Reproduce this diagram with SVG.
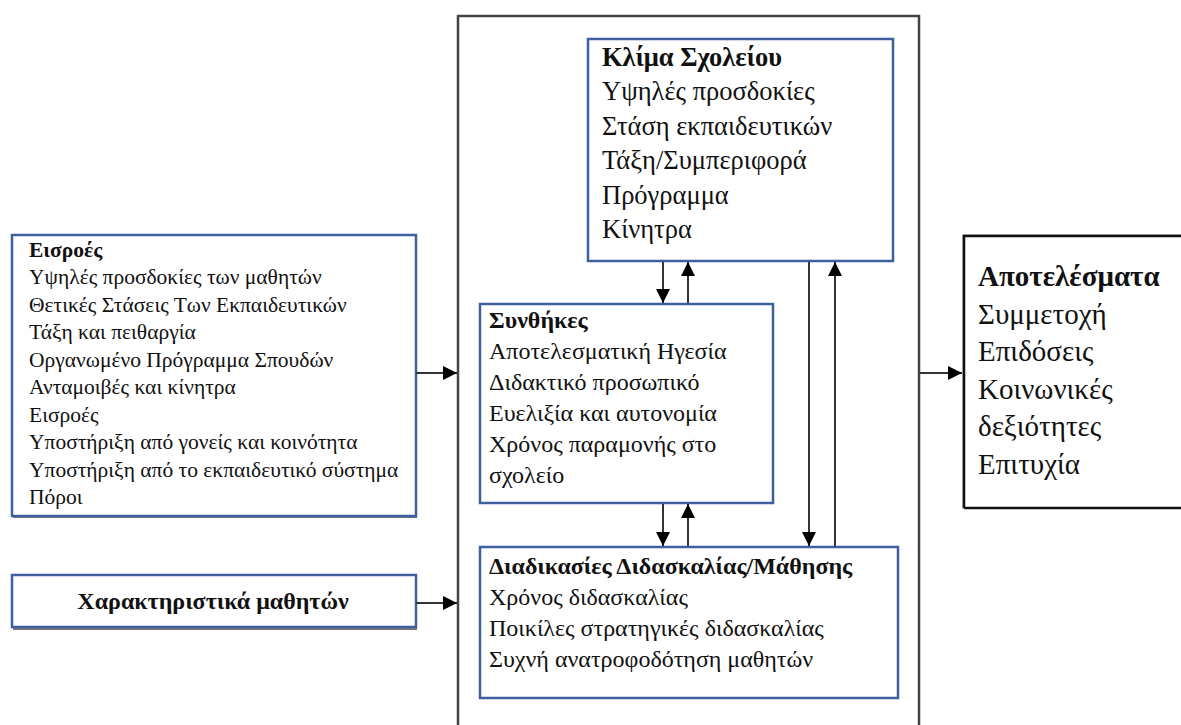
<svg xmlns="http://www.w3.org/2000/svg" width="1181" height="725" viewBox="0 0 1181 725">
<defs>
<marker id="ahb" viewBox="0 0 14 14" refX="14" refY="7" markerWidth="14" markerHeight="14" markerUnits="userSpaceOnUse" orient="auto">
<path d="M0,0 L14,7 L0,14 z" fill="#000"/>
</marker>
</defs>
<style>
.bx{fill:#fff;stroke:#3f5f9f;stroke-width:2.5}
.sh{fill:#777}
.ln{stroke:#333;stroke-width:2;fill:none}
.b{font-weight:bold}
</style>
<rect width="1181" height="725" fill="#fff"/>
<g id="outer">
<path d="M458,725 L458,16 L919,16 L919,725" fill="none" stroke="#444" stroke-width="2.5"/>
</g>
<g font-family="'Liberation Serif', 'Times New Roman', 'DejaVu Serif', serif" fill="#111">
<g id="eisroes" font-size="21.5">
<rect x="13" y="237" width="404" height="281" class="sh"/>
<rect x="12" y="235" width="404" height="281" class="bx"/>
<text x="29" y="257" class="b">Εισροές</text>
<text x="29" y="284">Υψηλές προσδοκίες των μαθητών</text>
<text x="29" y="311.5">Θετικές Στάσεις Των Εκπαιδευτικών</text>
<text x="29" y="339">Τάξη και πειθαργία</text>
<text x="29" y="366.5">Οργανωμένο Πρόγραμμα Σπουδών</text>
<text x="29" y="394">Ανταμοιβές και κίνητρα</text>
<text x="29" y="421.5">Εισροές</text>
<text x="29" y="449">Υποστήριξη από γονείς και κοινότητα</text>
<text x="29" y="476.5">Υποστήριξη από το εκπαιδευτικό σύστημα</text>
<text x="29" y="504">Πόροι</text>
</g>
<g id="charakt">
<rect x="13" y="577" width="404" height="53" class="sh"/>
<rect x="12" y="575" width="404" height="52" class="bx"/>
<text x="213" y="609" font-size="24" class="b" text-anchor="middle">Χαρακτηριστικά μαθητών</text>
</g>
<g id="klima" font-size="26.5">
<rect x="588" y="39" width="305" height="222" class="bx"/>
<text x="602" y="65.5" class="b">Κλίμα Σχολείου</text>
<text x="602" y="100">Υψηλές προσδοκίες</text>
<text x="602" y="134.5">Στάση εκπαιδευτικών</text>
<text x="602" y="169">Τάξη/Συμπεριφορά</text>
<text x="602" y="203.5">Πρόγραμμα</text>
<text x="602" y="238">Κίνητρα</text>
</g>
<g id="synthikes" font-size="24">
<rect x="480" y="304" width="293" height="199" class="bx"/>
<text x="489" y="328" class="b">Συνθήκες</text>
<text x="489" y="359">Αποτελεσματική Ηγεσία</text>
<text x="489" y="390">Διδακτικό προσωπικό</text>
<text x="489" y="421">Ευελιξία και αυτονομία</text>
<text x="489" y="452">Χρόνος παραμονής στο</text>
<text x="489" y="483">σχολείο</text>
</g>
<g id="diadikasies" font-size="24">
<rect x="480" y="547" width="418" height="151" class="bx"/>
<text x="489" y="574" class="b">Διαδικασίες Διδασκαλίας/Μάθησης</text>
<text x="489" y="605">Χρόνος διδασκαλίας</text>
<text x="489" y="636">Ποικίλες στρατηγικές διδασκαλίας</text>
<text x="489" y="667">Συχνή ανατροφοδότηση μαθητών</text>
</g>
<g id="apotelesmata" font-size="29">
<path d="M963,509 L963,235 L1181,235" fill="none" stroke="#888" stroke-width="1"/>
<path d="M964,508 L964,236 L1181,236 M964,508 L1181,508" fill="none" stroke="#111" stroke-width="2.5"/>
<text x="978" y="286" class="b">Αποτελέσματα</text>
<text x="978" y="323.5">Συμμετοχή</text>
<text x="978" y="361">Επιδόσεις</text>
<text x="978" y="398.5">Κοινωνικές</text>
<text x="978" y="436">δεξιότητες</text>
<text x="978" y="473.5">Επιτυχία</text>
</g>
</g>
<g id="connectors">
<line x1="416" y1="373" x2="457" y2="373" class="ln" marker-end="url(#ahb)"/>
<line x1="416" y1="603" x2="457" y2="603" class="ln" marker-end="url(#ahb)"/>
<line x1="920" y1="373" x2="962" y2="373" class="ln" marker-end="url(#ahb)"/>
<line x1="663" y1="262" x2="663" y2="303" class="ln" marker-end="url(#ahb)"/>
<line x1="688" y1="303" x2="688" y2="262" class="ln" marker-end="url(#ahb)"/>
<line x1="663" y1="504" x2="663" y2="546" class="ln" marker-end="url(#ahb)"/>
<line x1="688" y1="546" x2="688" y2="504" class="ln" marker-end="url(#ahb)"/>
<line x1="809" y1="262" x2="809" y2="546" class="ln" marker-end="url(#ahb)"/>
<line x1="835" y1="546" x2="835" y2="262" class="ln" marker-end="url(#ahb)"/>
</g>
</svg>
